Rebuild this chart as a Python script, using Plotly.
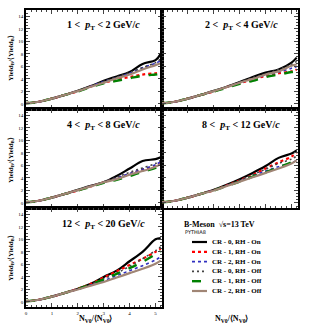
import plotly.graph_objects as go
from plotly.subplots import make_subplots

# ---------------- data ----------------
x_vals = [0.0, 0.25, 0.5, 0.75, 1.0, 1.5, 2.0, 2.5, 3.0, 3.5, 4.0, 4.5, 5.0, 5.2]
low = [0.15, 0.2, 0.35, 0.6, 0.85, 1.45]  # common low-multiplicity part

series_names = ["CR - 0, RH - On", "CR - 1, RH - On", "CR - 2, RH - On",
                "CR - 0, RH - Off", "CR - 1, RH - Off", "CR - 2, RH - Off"]

pt_bins = ["1 <  <i>p</i><sub>T</sub> < 2 GeV/<i>c</i>",
           "2 <  <i>p</i><sub>T</sub> < 4 GeV/<i>c</i>",
           "4 <  <i>p</i><sub>T</sub> < 8 GeV/<i>c</i>",
           "8 <  <i>p</i><sub>T</sub> < 12 GeV/<i>c</i>",
           "12 <  <i>p</i><sub>T</sub> < 20 GeV/<i>c</i>"]

# values from x = 2.0 onward (per pT bin, per series)
bin1 = [[2.1, 2.85, 3.7, 4.4, 5.1, 6.4, 7.0, 8.0],
        [2.05, 2.8, 3.4, 3.9, 4.3, 4.7, 4.9, 5.0],
        [2.1, 2.85, 3.6, 4.2, 4.9, 5.8, 6.5, 6.9],
        [2.1, 2.85, 3.6, 4.3, 5.0, 5.8, 6.6, 7.2],
        [2.0, 2.7, 3.3, 3.7, 4.1, 4.5, 4.7, 4.8],
        [2.05, 2.75, 3.4, 4.1, 4.7, 5.5, 6.2, 6.5]]
bin2 = [[2.1, 2.75, 3.5, 4.3, 5.0, 5.5, 6.6, 7.4],
        [2.0, 2.7, 3.3, 3.9, 4.5, 4.9, 5.2, 5.5],
        [2.05, 2.7, 3.4, 4.0, 4.6, 5.1, 5.7, 6.0],
        [2.1, 2.75, 3.5, 4.2, 4.8, 5.5, 6.3, 6.8],
        [2.0, 2.6, 3.2, 3.7, 4.3, 4.7, 5.1, 5.3],
        [2.05, 2.7, 3.4, 4.0, 4.7, 5.2, 6.1, 6.3]]
bin3 = [[2.1, 2.75, 3.3, 4.3, 5.5, 6.7, 7.0, 7.3],
        [2.0, 2.65, 3.3, 3.9, 4.6, 5.3, 5.9, 6.4],
        [2.05, 2.7, 3.3, 4.0, 4.7, 5.4, 6.1, 6.6],
        [2.05, 2.7, 3.4, 4.1, 4.9, 5.6, 6.3, 6.8],
        [2.0, 2.6, 3.2, 3.7, 4.3, 5.0, 5.6, 6.0],
        [2.05, 2.65, 3.3, 3.8, 4.5, 5.1, 5.8, 6.2]]
bin4 = [[2.1, 2.9, 3.8, 4.8, 5.9, 7.2, 7.9, 8.4],
        [2.05, 2.8, 3.6, 4.5, 5.5, 6.5, 7.4, 8.0],
        [2.05, 2.75, 3.5, 4.3, 5.1, 5.8, 6.4, 6.8],
        [2.05, 2.8, 3.6, 4.5, 5.4, 6.3, 7.0, 7.5],
        [2.0, 2.7, 3.4, 4.2, 4.9, 5.7, 6.5, 7.0],
        [2.0, 2.7, 3.4, 4.1, 4.8, 5.5, 6.3, 6.8]]
bin5 = [[2.1, 2.9, 4.0, 5.0, 6.5, 8.0, 10.0, 10.2],
        [2.1, 2.9, 3.9, 4.9, 5.9, 6.9, 8.0, 8.5],
        [2.0, 2.7, 3.4, 4.2, 5.0, 5.8, 6.7, 7.2],
        [2.05, 2.8, 3.7, 4.6, 5.7, 6.9, 8.2, 8.8],
        [2.05, 2.8, 3.6, 4.5, 5.4, 6.4, 7.6, 8.1],
        [2.0, 2.6, 3.2, 3.9, 4.6, 5.3, 6.1, 6.6]]
all_bins = [bin1, bin2, bin3, bin4, bin5]

# ---------------- styles ----------------
styles = [dict(color="#000000", width=2.2, dash="solid"),
          dict(color="#ff0000", width=2.2, dash="dot"),
          dict(color="#3030c0", width=1.6, dash="dot"),
          dict(color="#444444", width=1.6, dash="2px,3px"),
          dict(color="#008000", width=2.4, dash="dash"),
          dict(color="#a08575", width=2.2, dash="solid")]

W, H = 315, 328
L, R, T, B = 26, 17, 10, 21
pw = W - L - R
ph = H - T - B


def px(xp):
    return (xp - L) / pw


def py(yp):
    return (H - B - yp) / ph


fig = make_subplots(rows=3, cols=2, horizontal_spacing=0, vertical_spacing=0)
positions = [(1, 1), (1, 2), (2, 1), (2, 2), (3, 1)]
for b, (r, c) in enumerate(positions):
    for s in range(6):
        fig.add_trace(go.Scatter(x=x_vals, y=low + all_bins[b][s], mode="lines",
                                 line=styles[s], name=series_names[s],
                                 showlegend=False, line_shape="spline"),
                      row=r, col=c)

serif = "Liberation Serif"
for r in range(1, 4):
    for c in range(1, 3):
        fig.update_xaxes(range=[0, 5.25], dtick=1, tick0=0, ticks="inside", ticklen=4,
                         tickwidth=1, minor=dict(dtick=0.2, ticks="inside", ticklen=2),
                         showline=True, linewidth=1.5, linecolor="black", mirror="allticks",
                         showgrid=False, zeroline=False,
                         showticklabels=(r == 3), automargin=False,
                         tickfont=dict(family=serif, size=5, color="black"),
                         row=r, col=c)
        fig.update_yaxes(range=[-0.8, 15], dtick=2, tick0=0, ticks="inside", ticklen=4,
                         tickwidth=1, minor=dict(dtick=0.5, ticks="inside", ticklen=2),
                         showline=True, linewidth=1.5, linecolor="black", mirror="allticks",
                         showgrid=False, zeroline=False,
                         showticklabels=(c == 1), automargin=False,
                         tickfont=dict(family=serif, size=5, color="black"),
                         row=r, col=c)

ann = []
label_pos = [(103, 25), (241, 25), (103, 125), (241, 125), (103, 225)]
for b, (lx, ly) in enumerate(label_pos):
    ann.append(dict(x=px(lx), y=py(ly), xref="paper", yref="paper", showarrow=False,
                    xanchor="center", yanchor="middle",
                    text="<b>" + pt_bins[b] + "</b>",
                    font=dict(family=serif, size=10, color="black")))

ytitle = "<b>Yield<sub>B</sub>/⟨Yield<sub>B</sub>⟩</b>"
for yc in [58, 160, 258]:
    ann.append(dict(x=px(11), y=py(yc), xref="paper", yref="paper", showarrow=False,
                    xanchor="center", yanchor="middle",
                    text=ytitle, textangle=-90,
                    font=dict(family=serif, size=7, color="black")))

xtitle = "<b>N<sub>V0</sub>/⟨N<sub>V0</sub>⟩</b>"
for xc in [95, 231]:
    ann.append(dict(x=px(xc), y=py(319), xref="paper", yref="paper", showarrow=False,
                    xanchor="center", yanchor="middle",
                    text=xtitle, font=dict(family=serif, size=8, color="black")))

ann.append(dict(x=px(182), y=py(225), xref="paper", yref="paper", showarrow=False,
                xanchor="left", yanchor="middle", text="<b>B-Meson  √s=13 TeV</b>",
                font=dict(family=serif, size=8, color="black")))
ann.append(dict(x=px(183), y=py(232), xref="paper", yref="paper", showarrow=False,
                xanchor="left", yanchor="middle", text="PYTHIA8",
                font=dict(family="DejaVu Sans", size=5, color="black")))

shapes = []
for s, name in enumerate(series_names):
    yy = 242 + s * 9.8
    shapes.append(dict(type="line", xref="paper", yref="paper",
                       x0=px(192), x1=px(207), y0=py(yy), y1=py(yy),
                       line=styles[s]))
    ann.append(dict(x=px(210), y=py(yy), xref="paper", yref="paper", showarrow=False,
                    xanchor="left", yanchor="middle", text="<b>" + name + "</b>",
                    font=dict(family=serif, size=7, color="black")))

fig.update_layout(width=W, height=H, margin=dict(l=L, r=R, t=T, b=B),
                  paper_bgcolor="white", plot_bgcolor="white",
                  annotations=ann, shapes=shapes, showlegend=False)

fig.write_html("out.html", config={"displayModeBar": False},
               post_script="document.body.style.margin='0';document.body.style.overflow='hidden';")
